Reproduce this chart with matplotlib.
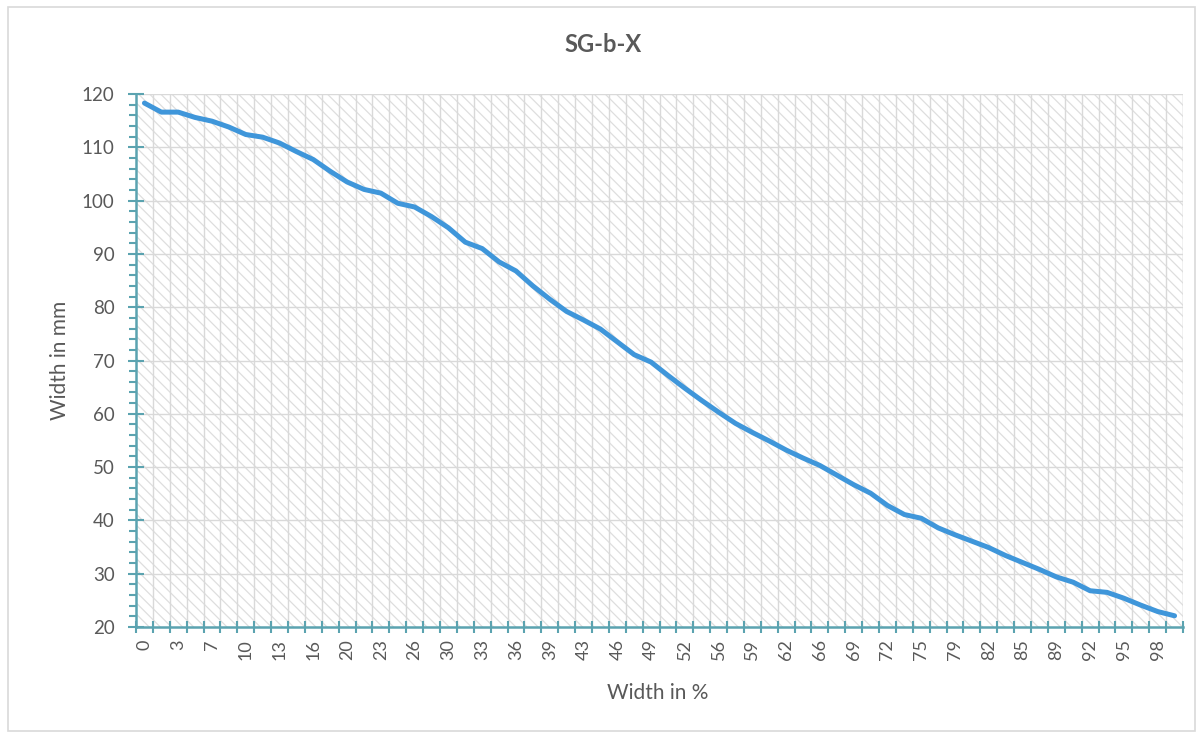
import numpy as np
import matplotlib
matplotlib.use("Agg")
import matplotlib.pyplot as plt
from matplotlib.patches import Rectangle

plt.rcParams['font.family'] = ['Lato', 'DejaVu Sans']
plt.rcParams['hatch.linewidth'] = 0.9

title = "SG-b-X"
x_label = "Width in %"
y_label = "Width in mm"

# width in mm at 62 equally spaced positions along the width
widths = [118.3, 116.6, 116.6, 115.6, 114.9, 113.8, 112.4, 111.9, 110.8, 109.2,
          107.7, 105.5, 103.5, 102.1, 101.4, 99.5, 98.8, 97.0, 94.9, 92.2,
          91.0, 88.5, 86.8, 84.0, 81.5, 79.2, 77.6, 75.9, 73.5, 71.1,
          69.7, 67.2, 64.8, 62.5, 60.3, 58.2, 56.5, 54.9, 53.2, 51.7,
          50.3, 48.5, 46.7, 45.1, 42.8, 41.1, 40.4, 38.6, 37.3, 36.1,
          34.9, 33.4, 32.1, 30.8, 29.4, 28.4, 26.8, 26.5, 25.4, 24.1,
          22.9, 22.1]
# category labels, shown on every other category
pct_labels = ["0", "3", "7", "10", "13", "16", "20", "23", "26", "30", "33",
              "36", "39", "43", "46", "49", "52", "56", "59", "62", "66", "69",
              "72", "75", "79", "82", "85", "89", "92", "95", "98"]

grey_txt = "#595959"
axis_col = "#5ba3b0"
grid_col = "#d9d9d9"
line_col = "#3f96da"

n = len(widths)
pos = np.arange(n)

fig = plt.figure(figsize=(12.03, 7.33), dpi=100)
ax = fig.add_axes([136 / 1203, 1 - 627 / 733, 1047 / 1203, (627 - 94) / 733])

# outer chart border
fig.patches.append(Rectangle((8 / 1203, 2 / 733), 1187 / 1203, 724 / 733,
                             transform=fig.transFigure, fill=False,
                             edgecolor=grid_col, linewidth=1.2))

# hatched plot area
ax.add_patch(Rectangle((0, 0), 1, 1, transform=ax.transAxes, facecolor="white",
                       edgecolor="#dedede", hatch="\\\\\\", linewidth=0, zorder=0))

ax.plot(pos, widths, color=line_col, linewidth=3.6, solid_capstyle="round",
        solid_joinstyle="round", zorder=3)

ax.set_xlim(-0.5, n - 0.5)
ax.set_ylim(20, 120)

# grid
for b in np.arange(0.5, n, 1.0):
    ax.axvline(b, color=grid_col, linewidth=1.0, zorder=1)
for v in range(30, 121, 10):
    ax.axhline(v, color=grid_col, linewidth=1.0, zorder=1)
ax.axvline(n - 0.5, color=grid_col, linewidth=1.0, zorder=1)

# ticks
ax.set_xticks(np.arange(-0.5, n, 1.0))
ax.set_xticklabels([])
ax.set_xticks(pos[::2], minor=True)
ax.set_xticklabels(pct_labels, minor=True, rotation=90, fontsize=13, color=grey_txt)
ax.tick_params(axis="x", which="major", direction="inout", length=8, width=1.5,
               color=axis_col)
ax.tick_params(axis="x", which="minor", length=0, pad=9)

ax.set_yticks(range(20, 121, 10))
ax.set_yticklabels([str(v) for v in range(20, 121, 10)], fontsize=13.5, color=grey_txt)
ax.set_yticks(range(20, 121, 2), minor=True)
ax.tick_params(axis="y", which="major", direction="inout", length=11, width=1.5,
               color=axis_col, pad=10)
ax.tick_params(axis="y", which="minor", direction="out", length=5, width=1.5,
               color=axis_col)

for s in ["top", "right"]:
    ax.spines[s].set_visible(False)
for s in ["left", "bottom"]:
    ax.spines[s].set_color(axis_col)
    ax.spines[s].set_linewidth(1.8)
    ax.spines[s].set_zorder(4)

fig.text(603 / 1203, 1 - 45 / 733, title, fontsize=17, fontweight="bold",
         color=grey_txt, ha="center", va="center")
fig.text(658 / 1203, 1 - 693 / 733, x_label, fontsize=15, color=grey_txt,
         ha="center", va="center")
fig.text(60 / 1203, 1 - 360 / 733, y_label, fontsize=15, color=grey_txt,
         ha="center", va="center", rotation=90)

fig.savefig("out.png", dpi=100)
